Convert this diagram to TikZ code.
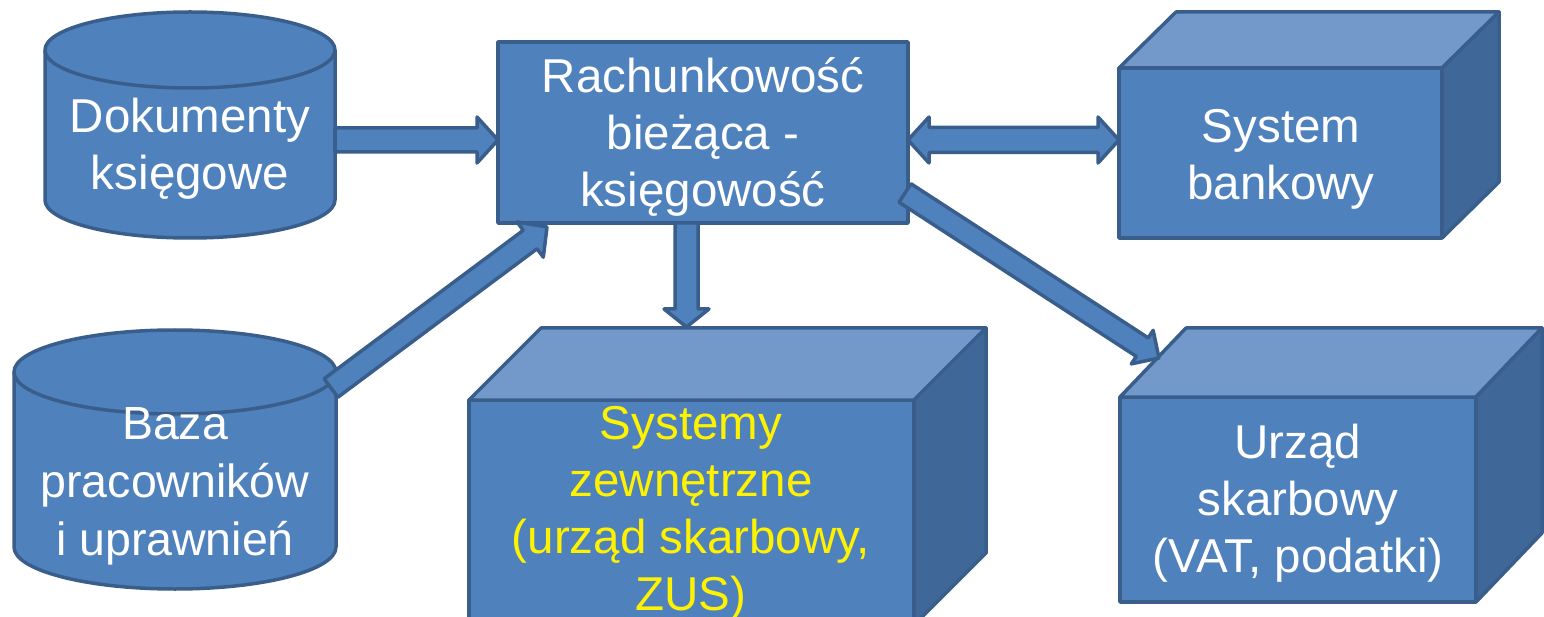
\documentclass[tikz,border=0pt]{standalone}
\usepackage{fontspec}
\setmainfont{Liberation Sans}
\usetikzlibrary{calc}
\definecolor{fillblue}{HTML}{4F81BD}
\definecolor{topblue}{HTML}{7299CA}
\definecolor{sideblue}{HTML}{3F6797}
\definecolor{edgeblue}{HTML}{3A5E8C}
\newcommand{\sst}{\rule[-12pt]{0pt}{57pt}}
\newcommand{\singlearrow}[5]{%
  \coordinate (tmpH) at ($(#2)!#5!(#1)$);
  \path[blockarrow] ($(#1)!#3!90:(#2)$) -- ($(tmpH)!#3!90:(#2)$) -- ($(tmpH)!#4!90:(#2)$) -- (#2)
    -- ($(tmpH)!#4!-90:(#2)$) -- ($(tmpH)!#3!-90:(#2)$) -- ($(#1)!#3!-90:(#2)$) -- cycle;}
\newcommand{\doublearrow}[5]{%
  \coordinate (tmpA) at ($(#1)!#5!(#2)$);
  \coordinate (tmpB) at ($(#2)!#5!(#1)$);
  \path[blockarrow] (#1) -- ($(tmpA)!#4!90:(#2)$) -- ($(tmpA)!#3!90:(#2)$) -- ($(tmpB)!#3!90:(#2)$)
    -- ($(tmpB)!#4!90:(#2)$) -- (#2) -- ($(tmpB)!#4!-90:(#2)$) -- ($(tmpB)!#3!-90:(#2)$)
    -- ($(tmpA)!#3!-90:(#2)$) -- ($(tmpA)!#4!-90:(#2)$) -- cycle;}
\begin{document}
\begin{tikzpicture}[x=1pt,y=-1pt,
  shapestyle/.style={fill=fillblue, draw=edgeblue, line width=3.5pt, line join=round},
  topface/.style={fill=topblue, draw=edgeblue, line width=3.5pt, line join=round},
  sideface/.style={fill=sideblue, draw=edgeblue, line width=3.5pt, line join=round},
  blockarrow/.style={fill=fillblue, draw=edgeblue, line width=3.5pt, line join=round},
  lbl/.style={text=white, align=center, inner sep=0pt, font=\fontsize{47.5}{57}\selectfont},
  ylbl/.style={lbl, text=yellow}]
\useasboundingbox (0,0) rectangle (1544,617);
\clip (0,0) rectangle (1544,617);
\fill[white] (0,0) rectangle (1544,617);

% cylinder: Dokumenty
\path[shapestyle] (45,50) -- (45,200) arc[start angle=180, end angle=360, x radius=145pt, y radius=38pt]
  -- (335,50) arc[start angle=0, end angle=180, x radius=145pt, y radius=38pt] -- cycle;
\draw[edgeblue, line width=3.5pt] (45,50) arc[start angle=180, end angle=360, x radius=145pt, y radius=38pt];
\node[lbl] (doc) at (190,145) {\sst Dokumenty\\\sst księgowe};

% cylinder: Baza
\path[shapestyle] (14,372) -- (14,547) arc[start angle=180, end angle=360, x radius=161pt, y radius=42pt]
  -- (336,372) arc[start angle=0, end angle=180, x radius=161pt, y radius=42pt] -- cycle;
\draw[edgeblue, line width=3.5pt] (14,372) arc[start angle=180, end angle=360, x radius=161pt, y radius=42pt];
\node[lbl, font=\fontsize{46.5}{56}\selectfont] (baza) at (175,481) {\sst Baza\\\sst pracowników\\\sst i uprawnień};

% central box
\node[shapestyle, minimum width=410pt, minimum height=181pt, inner sep=0pt] (cenbox) at (703,132.5) {};
\node[lbl] (cen) at (703,133.5) {\sst Rachunkowość\\\sst bieżąca -\\\sst księgowość};

% cube: System bankowy
\path[shapestyle] (1119,68) rectangle (1442,238);
\path[topface] (1119,68) -- (1176,12) -- (1499,12) -- (1442,68) -- cycle;
\path[sideface] (1442,68) -- (1499,12) -- (1499,182) -- (1442,238) -- cycle;
\node[lbl] (bank) at (1281,154.5) {\sst System\\\sst bankowy};

% cube: Systemy zewnetrzne
\path[shapestyle] (469,400) rectangle (914,625);
\path[topface] (469,400) -- (541,328) -- (986,328) -- (914,400) -- cycle;
\path[sideface] (914,400) -- (986,328) -- (986,553) -- (914,625) -- cycle;
\node[ylbl] (ext) at (691,508.5) {\sst Systemy\\\sst zewnętrzne\\\sst (urząd skarbowy,\\\sst ZUS)};

% cube: Urzad skarbowy
\path[shapestyle] (1120,397) rectangle (1476,602);
\path[topface] (1120,397) -- (1186,328) -- (1542,328) -- (1476,397) -- cycle;
\path[sideface] (1476,397) -- (1542,328) -- (1542,533) -- (1476,602) -- cycle;
\node[lbl] (urz) at (1298,498.5) {\sst Urząd\\\sst skarbowy\\\sst (VAT, podatki)};

% connector end points
\coordinate (docR) at (335,140);
\coordinate (cenL) at (498,140);
\coordinate (cenR) at (908,140);
\coordinate (bankL) at (1119,140);
\coordinate (cenB) at (686.5,223);
\coordinate (extT) at (686.5,327);
\coordinate (bazaT) at (331,388);
\coordinate (cenBL) at (547,227);
\coordinate (cenRB) at (905,193);
\coordinate (urzT) at (1159,358);

% block arrows
\singlearrow{docR}{cenL}{12pt}{23pt}{21pt}
\doublearrow{cenR}{bankL}{12.5pt}{23pt}{21pt}
\singlearrow{cenB}{extT}{11.5pt}{22.5pt}{18pt}
\singlearrow{bazaT}{cenBL}{11.5pt}{22pt}{21pt}
\singlearrow{cenRB}{urzT}{11pt}{20pt}{20pt}
\end{tikzpicture}
\end{document}
